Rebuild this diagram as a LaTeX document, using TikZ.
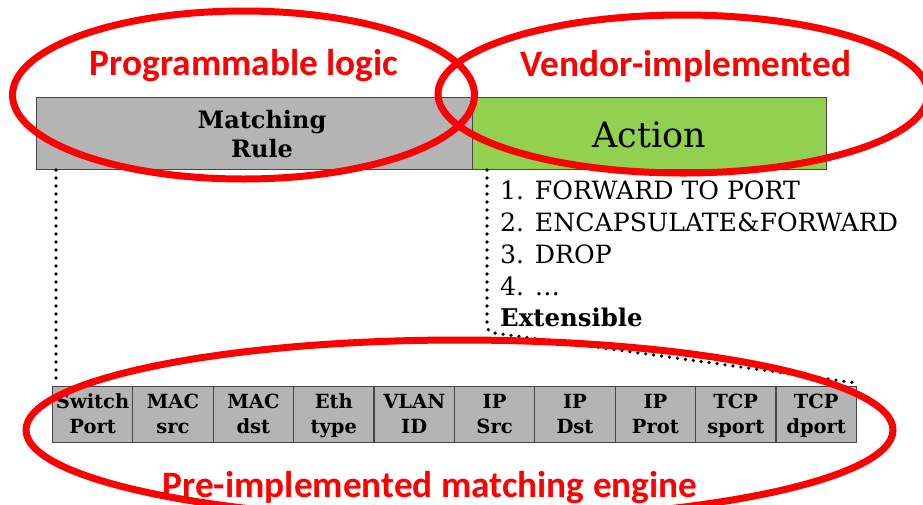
\documentclass[tikz,border=0pt]{standalone}
\usepackage{fontspec}
\setmainfont{DejaVu Serif}
\newfontfamily\calib{Carlito}
\definecolor{cellgray}{RGB}{180,180,180}
\definecolor{actgreen}{RGB}{146,208,80}
\definecolor{ringred}{RGB}{255,0,0}
\definecolor{edgegray}{RGB}{70,70,70}
\tikzset{
  graybox/.style={draw=edgegray, line width=1pt, fill=cellgray, inner sep=0pt, anchor=north west},
  greenbox/.style={draw=edgegray, line width=1pt, fill=actgreen, inner sep=0pt, anchor=north west},
  fieldcell/.style={draw=edgegray, line width=1pt, fill=cellgray, inner sep=0pt, anchor=north west,
     minimum width=80.2pt, minimum height=56pt},
  fieldtext/.style={font=\fontsize{19.5}{24}\selectfont\bfseries, inner sep=0pt, anchor=base},
  ruletext/.style={font=\fontsize{24}{28}\selectfont\bfseries, inner sep=0pt, anchor=base},
  redring/.style={draw=ringred, line width=7pt},
  redlabel/.style={text=ringred, font=\calib\bfseries\fontsize{37.3}{42}\selectfont, inner sep=0pt, anchor=base},
  dotline/.style={line width=3.6pt, line cap=round, dash pattern=on 0pt off 8pt, rounded corners=6pt},
  listitem/.style={font=\fontsize{25.2}{30}\selectfont, inner sep=0pt, anchor=base west},
}
\begin{document}
\begin{tikzpicture}[x=1pt,y=-1pt]
\useasboundingbox (0,0) rectangle (923,504);
% boxes
\node[graybox, minimum width=436pt, minimum height=72pt] (rule) at (36,97) {};
\node[greenbox, minimum width=354pt, minimum height=72pt] (act) at (472,97) {};
\node[ruletext] (rulea) at (262,128) {Matching};
\node[ruletext] (ruleb) at (262,157) {Rule};
\node[font=\fontsize{35}{40}\selectfont, inner sep=0pt, anchor=base] (actlbl) at (649,147) {Action};
% list
\node[listitem] (l1) at (500,199) {1. FORWARD TO PORT};
\node[listitem] (l2) at (500,231) {2. ENCAPSULATE\&FORWARD};
\node[listitem] (l3) at (500,263) {3. DROP};
\node[listitem] (l4) at (500,295) {4. \dots};
\node[listitem, font=\fontsize{24.4}{30}\selectfont\bfseries] (l5) at (500,326) {Extensible};
% fields
\foreach \a/\b [count=\i] in {Switch/Port,MAC/src,MAC/dst,Eth/type,VLAN/ID,IP/Src,IP/Dst,IP/Prot,TCP/sport,TCP/dport}{
  \node[fieldcell] (f\i) at ({52+80.4*(\i-1)},386) {};
  \node[fieldtext] (fa\i) at ([yshift=-22pt]f\i.north) {\a};
  \node[fieldtext] (fb\i) at ([yshift=-47pt]f\i.north) {\b};
}
% dotted connectors
\coordinate (bend) at (487,332);
\draw[dotline] ([xshift=20pt]rule.south west) -- ([xshift=4pt,yshift=8pt]f1.north west);
\draw[dotline] ([xshift=15pt]act.south west) -- (bend) -- ([yshift=3pt]f10.north east);
% rings
\draw[redring] (243.5,95) ellipse [x radius=231pt, y radius=84pt];
\draw[redring] (683,94) ellipse [x radius=245pt, y radius=79pt];
\draw[redring] (459.5,430) ellipse [x radius=433.5pt, y radius=90pt];
% red labels
\node[redlabel] (t1) at (244,75) {Programmable logic};
\node[redlabel] (t2) at (686,76) {Vendor-implemented};
\node[redlabel] (t3) at (430,497) {Pre-implemented matching engine};
\end{tikzpicture}
\end{document}
